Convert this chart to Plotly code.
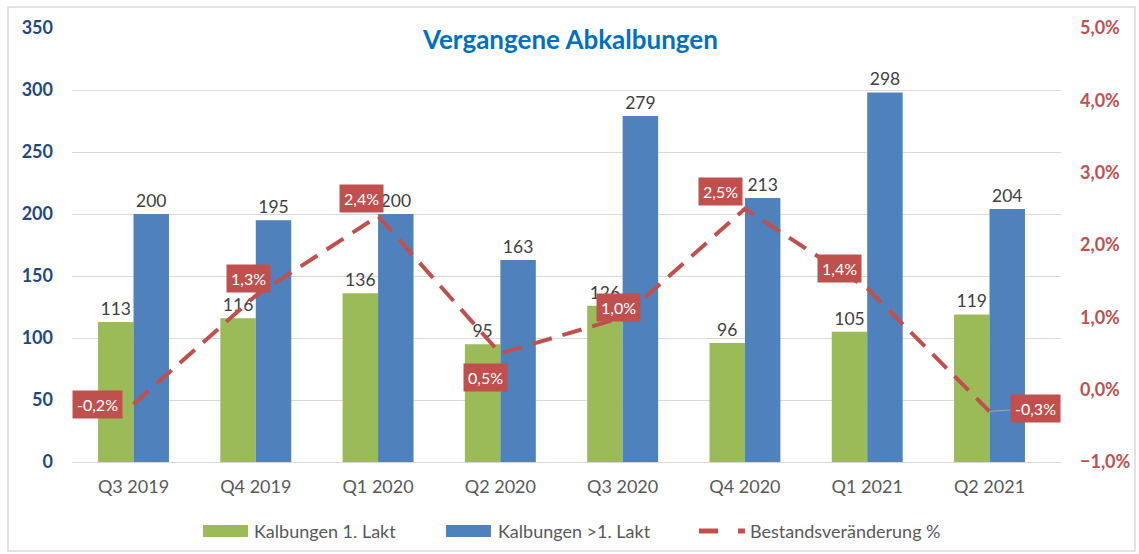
import plotly.graph_objects as go

categories = ["Q3 2019", "Q4 2019", "Q1 2020", "Q2 2020", "Q3 2020", "Q4 2020", "Q1 2021", "Q2 2021"]
kalb_1_lakt = [113, 116, 136, 95, 126, 96, 105, 119]
kalb_gt1_lakt = [200, 195, 200, 163, 279, 213, 298, 204]
bestand_pct = [-0.2, 1.3, 2.4, 0.5, 1.0, 2.5, 1.4, -0.3]
series_names = ["Kalbungen 1. Lakt", "Kalbungen >1. Lakt", "Bestandsveränderung %"]

# label offsets (px) for the line value boxes
label_xshift = [-36, -7, -17, -15, -4, -24, -28, 0]
label_yshift = [0, 17, 18, -24, 10, 17, 20, 0]

FONT = "Lato"
GREEN = "#9BBB59"
BLUE = "#4F81BD"
RED = "#C0504D"

# plot area in pixels
L, R, T, B = 72, 1061, 28, 462
W, H = R - L, B - T


def px(xp):
    return (xp - L) / W


def py(yp):
    return (B - yp) / H


fig = go.Figure()
fig.add_trace(go.Bar(
    x=categories, y=kalb_1_lakt, name=series_names[0],
    marker=dict(color=GREEN, line=dict(width=0)),
    text=[str(v) for v in kalb_1_lakt], textposition="outside",
    textfont=dict(color="#404040", size=17.5, family=FONT), cliponaxis=False,
))
fig.add_trace(go.Bar(
    x=categories, y=kalb_gt1_lakt, name=series_names[1],
    marker=dict(color=BLUE, line=dict(width=0)),
    text=[str(v) for v in kalb_gt1_lakt], textposition="outside",
    textfont=dict(color="#404040", size=17.5, family=FONT), cliponaxis=False,
))
fig.add_trace(go.Scatter(
    x=categories, y=[v / 100 for v in bestand_pct], name=series_names[2],
    mode="lines", yaxis="y2",
    line=dict(color=RED, width=4, dash="20px,11px"),
))

annotations = []
for i, (c, v) in enumerate(zip(categories, bestand_pct)):
    txt = f"{v:.1f}%".replace(".", ",")
    if i == len(categories) - 1:
        annotations.append(dict(
            x=c, y=v / 100, xref="x", yref="y2", text=txt,
            showarrow=True, arrowhead=0, arrowwidth=1, arrowcolor="#A6A6A6",
            ax=46, ay=-3, bgcolor=RED, borderpad=4,
            font=dict(color="white", size=16, family=FONT),
        ))
    else:
        annotations.append(dict(
            x=c, y=v / 100, xref="x", yref="y2", text=txt, showarrow=False,
            xshift=label_xshift[i], yshift=label_yshift[i],
            bgcolor=RED, borderpad=4,
            font=dict(color="white", size=16, family=FONT),
        ))

# title
annotations.append(dict(
    x=px(570), y=py(39), xref="paper", yref="paper", yanchor="middle",
    text="<b>Vergangene Abkalbungen</b>", showarrow=False,
    font=dict(color="#0070C0", size=26, family=FONT),
))

# custom legend
legend_y = 531
shapes = [
    dict(type="rect", xref="paper", yref="paper",
         x0=px(203), x1=px(248), y0=py(537), y1=py(525),
         fillcolor=GREEN, line=dict(width=0)),
    dict(type="rect", xref="paper", yref="paper",
         x0=px(446), x1=px(491), y0=py(537), y1=py(525),
         fillcolor=BLUE, line=dict(width=0)),
    dict(type="line", xref="paper", yref="paper",
         x0=px(699), x1=px(718), y0=py(legend_y), y1=py(legend_y),
         line=dict(color=RED, width=5)),
    dict(type="line", xref="paper", yref="paper",
         x0=px(738), x1=px(745), y0=py(legend_y), y1=py(legend_y),
         line=dict(color=RED, width=5)),
    dict(type="rect", xref="paper", yref="paper",
         x0=px(8), x1=px(1135), y0=py(551), y1=py(7),
         line=dict(color="#D9D9D9", width=1.5), fillcolor="rgba(0,0,0,0)", layer="below"),
]
for name, xs in zip(series_names, [252, 496, 748]):
    annotations.append(dict(
        x=px(xs), y=py(legend_y), xref="paper", yref="paper",
        xanchor="left", yanchor="middle", text=name, showarrow=False,
        font=dict(color="#595959", size=18, family=FONT),
    ))

fig.update_layout(
    width=1139, height=554,
    margin=dict(l=L, r=1139 - R, t=T, b=554 - B, autoexpand=False),
    paper_bgcolor="white", plot_bgcolor="white",
    separators=",.",
    showlegend=False,
    font=dict(family=FONT, color="#595959", size=18),
    barmode="group", bargap=0.42, bargroupgap=0,
    xaxis=dict(
        showgrid=False, showline=True, linecolor="#D9D9D9", linewidth=1,
        tickfont=dict(color="#595959", size=18, family=FONT),
        ticks="", ticklabelstandoff=8, automargin=False,
    ),
    yaxis=dict(
        range=[0, 350], tickvals=[0, 50, 100, 150, 200, 250, 300, 350],
        showgrid=True, gridcolor="#D9D9D9", gridwidth=1, zeroline=False,
        tickfont=dict(color="#1F497D", size=18, family=FONT, weight="bold"),
        ticklabelstandoff=18, automargin=False,
    ),
    yaxis2=dict(
        range=[-0.01, 0.05], tickvals=[-0.01, 0, 0.01, 0.02, 0.03, 0.04, 0.05],
        tickformat=".1%", overlaying="y", side="right",
        showgrid=False, zeroline=False,
        tickfont=dict(color=RED, size=18, family=FONT, weight="bold"),
        ticklabelstandoff=18, automargin=False,
    ),
    annotations=annotations,
    shapes=shapes,
)

fig.write_html(
    "out.html",
    config={"displayModeBar": False},
    post_script="document.body.style.margin='0';document.body.style.overflow='hidden';",
)
